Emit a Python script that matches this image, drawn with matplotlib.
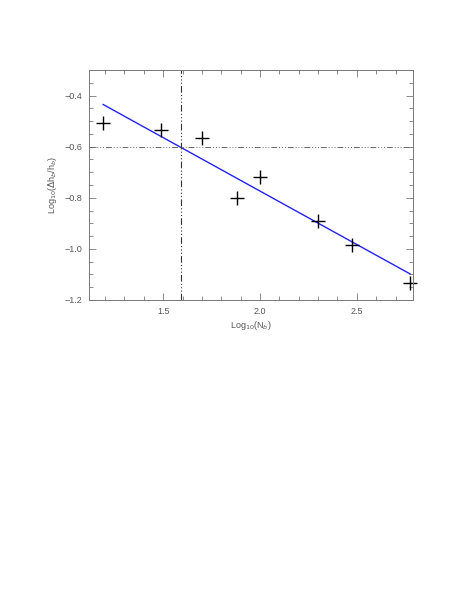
import matplotlib
matplotlib.use("Agg")
import matplotlib.pyplot as plt
from matplotlib.ticker import MultipleLocator

# data
log_n = [1.19, 1.49, 1.70, 1.88, 2.00, 2.30, 2.475, 2.775]
log_dh = [-0.507, -0.535, -0.567, -0.800, -0.719, -0.890, -0.986, -1.132]
# fitted line end points
fit_x = [1.19, 2.775]
fit_y = [-0.435, -1.098]
# reference lines
x_ref = 1.59
y_ref = -0.6

plt.rcParams['font.family'] = ['Liberation Sans', 'DejaVu Sans']
txt = '#555555'

fig = plt.figure(figsize=(4.69, 6.07), dpi=100)
ax = fig.add_axes([0.1898, 0.5058, 0.6908, 0.3789])

# dash followed by three dots, as in the reference
dash3 = (0, (6, 2, 1, 2, 1, 2, 1, 2))
ax.plot(fit_x, fit_y, color='#2222ee', lw=1.0)
ax.plot(log_n, log_dh, ls='none', marker='+', color='black', ms=10, mew=1.0,
        clip_on=False)
ax.axvline(x_ref, color='#333333', lw=0.8, ls=dash3)
ax.axhline(y_ref, color='#666666', lw=0.7, ls=dash3)

ax.set_xlim(1.117, 2.79)
ax.set_ylim(-1.2, -0.3)
ax.xaxis.set_major_locator(MultipleLocator(0.5))
ax.xaxis.set_minor_locator(MultipleLocator(0.1))
ax.yaxis.set_major_locator(MultipleLocator(0.2))
ax.yaxis.set_minor_locator(MultipleLocator(0.05))
ax.tick_params(which='both', direction='in', top=True, right=True,
               colors='#777777', labelcolor=txt, labelsize=6.5, width=0.6)
ax.tick_params(which='major', length=5, pad=5)
ax.tick_params(which='minor', length=3)
for s in ax.spines.values():
    s.set_color('#777777')
    s.set_linewidth(0.7)

ax.set_xlabel(r'Log$_{10}$(N$_b$)', fontsize=6.5, color=txt, labelpad=2)
ax.set_ylabel(r'Log$_{10}$($\Delta$h$_b$/h$_b$)', fontsize=6.5, color=txt, labelpad=4)

fig.savefig('out.png', dpi=100)
